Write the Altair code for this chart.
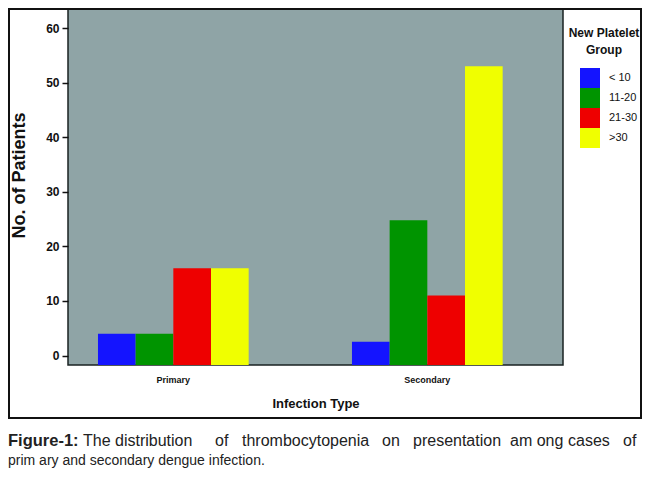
import altair as alt
import pandas as pd

infection_types = ["Primary", "Secondary"]
platelet_groups = ["< 10", "11-20", "21-30", ">30"]
primary_counts = [4, 4, 16, 16]
secondary_counts = [2.5, 24.8, 11, 53]
group_colors = ["#1414ff", "#009400", "#ee0000", "#f0ff00"]
y_ticks = [0, 10, 20, 30, 40, 50, 60]
y_min, y_max = -1.74, 63.5

rows = []
for g, v in zip(platelet_groups, primary_counts):
    rows.append({"Infection Type": "Primary", "Group": g, "Patients": v})
for g, v in zip(platelet_groups, secondary_counts):
    rows.append({"Infection Type": "Secondary", "Group": g, "Patients": v})
df = pd.DataFrame(rows)

# caption words (annotation, not data); left edges relative to the plot area
cap1_words = ["The", "distribution", "of", "thrombocytopenia", "on", "presentation", "am ong", "cases", "of"]
cap1_x = [15, 47, 147, 174, 314, 345, 442, 500, 555]
cap2_text = "prim ary and secondary dengue infection."

W, H = 495, 356
FONT = "Liberation Sans, Arial, sans-serif"

bars = alt.Chart(df).mark_bar(strokeWidth=0).encode(
    x=alt.X("Infection Type:N", sort=infection_types,
            scale=alt.Scale(paddingInner=0.4067, paddingOuter=0.1778, align=0.332),
            axis=alt.Axis(title="Infection Type", labelAngle=0, ticks=False, domain=False,
                          labelFont=FONT, labelFontSize=9, labelFontWeight="bold",
                          labelColor="#111", labelPadding=10,
                          titleFont=FONT, titleFontSize=13, titleFontWeight="bold",
                          titleColor="#111", titlePadding=13)),
    xOffset=alt.XOffset("Group:N", sort=platelet_groups,
                        scale=alt.Scale(paddingInner=0, paddingOuter=0)),
    y=alt.Y("Patients:Q",
            scale=alt.Scale(domain=[y_min, y_max], nice=False, zero=False),
            axis=alt.Axis(title="No. of Patients", values=y_ticks, grid=False, domain=False,
                          tickColor="#111", tickSize=6, tickWidth=1.5,
                          labelFont=FONT, labelFontSize=12, labelFontWeight="bold",
                          labelColor="#111", labelPadding=3,
                          titleFont=FONT, titleFontSize=18, titleFontWeight="bold",
                          titleColor="#111", titleX=-44, titleY=166, titleAngle=270,
                          titleBaseline="alphabetic")),
    y2=alt.datum(y_min),
    color=alt.Color("Group:N", sort=platelet_groups,
                    scale=alt.Scale(domain=platelet_groups, range=group_colors),
                    legend=alt.Legend(title=["New Platelet", "Group"], orient="none",
                                      legendX=501, legendY=19,
                                      symbolType="square", symbolSize=400,
                                      symbolStrokeWidth=0, symbolOffset=9,
                                      rowPadding=0, labelOffset=9,
                                      labelFont=FONT, labelFontSize=11, labelColor="#111",
                                      titleFont=FONT, titleFontSize=12, titleFontWeight="bold",
                                      titleColor="#111", titleAlign="center",
                                      titleAnchor="middle", titleLineHeight=17,
                                      titlePadding=11)),
)

frame = alt.Chart(pd.DataFrame({"k": [0]})).mark_rect(
    fill=None, stroke="#111", strokeWidth=2
).encode(x=alt.value(-59), x2=alt.value(573), y=alt.value(0), y2=alt.value(409))

cap_bold = alt.Chart(pd.DataFrame({"t": ["Figure-1:"]})).mark_text(
    align="left", baseline="alphabetic", font=FONT, fontSize=16.5, fontWeight="bold",
    color="#222"
).encode(text="t:N", x=alt.value(-60), y=alt.value(437))

cap1 = alt.Chart(pd.DataFrame({"t": cap1_words, "px": cap1_x})).mark_text(
    align="left", baseline="alphabetic", font=FONT, fontSize=16, color="#222"
).encode(text="t:N", x=alt.X("px:Q", scale=None), y=alt.value(437))

cap2 = alt.Chart(pd.DataFrame({"t": [cap2_text]})).mark_text(
    align="left", baseline="alphabetic", font=FONT, fontSize=14, color="#222"
).encode(text="t:N", x=alt.value(-60), y=alt.value(456))

chart = alt.layer(frame, bars, cap_bold, cap1, cap2).properties(
    width=W, height=H,
    autosize=alt.AutoSizeParams(type="none"),
    padding={"left": 60, "top": 1, "right": 79, "bottom": 110},
    background="white",
).configure_view(fill="#8fa4a6", stroke="#1a2222", strokeWidth=1.5)

chart.save("out.html", embed_options={"renderer": "svg", "actions": False})
